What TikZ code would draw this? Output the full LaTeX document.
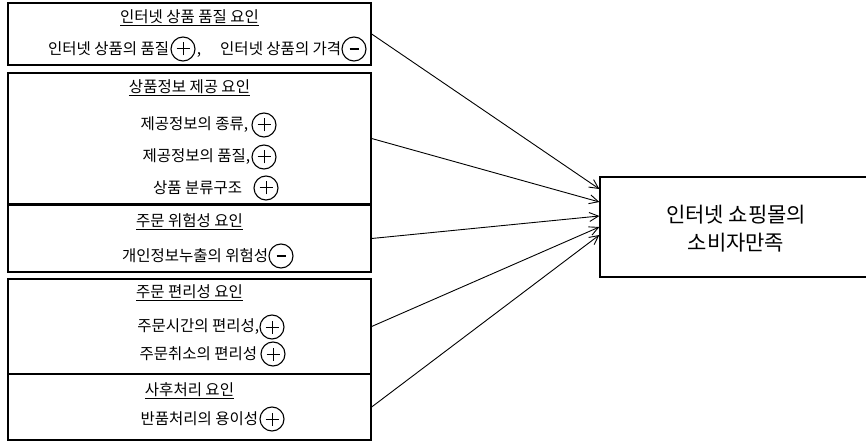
\documentclass[tikz,border=0pt]{standalone}
\usepackage{fontspec}
\setmainfont{Noto Sans CJK KR}
\usetikzlibrary{arrows.meta}
\begin{document}
\begin{tikzpicture}[x=1pt,y=-1pt,
  fbox/.style={draw, line width=1.3pt, minimum width=363pt, inner sep=0},
  ttl/.style={font=\fontsize{15.5}{17}\selectfont, inner sep=0},
  itm/.style={font=\fontsize{15.5}{17}\selectfont, inner sep=0, anchor=east},
  sgn/.style={circle, draw, line width=1.1pt, minimum size=24pt, inner sep=0},
  pls/.style={sgn, path picture={\draw[line width=1pt]
      ([xshift=-6.5pt]path picture bounding box.center) -- ([xshift=6.5pt]path picture bounding box.center)
      ([yshift=-6.5pt]path picture bounding box.center) -- ([yshift=6.5pt]path picture bounding box.center);}},
  mns/.style={sgn, path picture={\draw[line width=2.6pt]
      ([xshift=-4.5pt]path picture bounding box.center) -- ([xshift=4.5pt]path picture bounding box.center);}},
  arr/.style={line width=0.9pt, -{Straight Barb[length=9pt,width=9pt]}}]
\useasboundingbox (0,0) rectangle (866,443);
% boxes
\node[fbox, minimum height=62pt] (b1) at (189.5,34) {};
\node[fbox, minimum height=131pt] (b2) at (189.5,138.5) {};
\node[fbox, minimum height=67pt] (b3) at (189.5,238.5) {};
\node[fbox, minimum height=95pt] (b4) at (189.5,326.5) {};
\node[fbox, minimum height=66pt] (b5) at (189.5,407) {};
% box 1
\node[ttl] (t1) at (189.5,18) {\underline{인터넷 상품 품질 요인}};
\node[pls] (c1a) at (183,49) {};
\node[mns] (c1b) at (354,49) {};
\node[itm] (l1a) at ([xshift=-1pt]c1a.west) {인터넷 상품의 품질};
\node[itm, anchor=base west] (l1c) at ([xshift=1pt]l1a.base -| c1a.east) {,};
\node[itm] (l1b) at ([xshift=0pt]c1b.west) {인터넷 상품의 가격};
% box 2
\node[ttl] (t2) at (189.5,88) {\underline{상품정보 제공 요인}};
\node[pls] (c2a) at (264,125) {};
\node[pls] (c2b) at (264,157) {};
\node[pls] (c2c) at (266,188) {};
\node[itm] (l2a) at ([xshift=-3pt]c2a.west) {제공정보의 종류,};
\node[itm] (l2b) at ([xshift=-1pt]c2b.west) {제공정보의 품질,};
\node[itm] (l2c) at ([xshift=-11pt]c2c.west) {상품 분류구조};
% box 3
\node[ttl] (t3) at (189.5,222) {\underline{주문 위험성 요인}};
\node[mns] (c3a) at (281,256) {};
\node[itm] (l3a) at ([xshift=0pt]c3a.west) {개인정보누출의 위험성};
% box 4
\node[ttl] (t4) at (189.5,293) {\underline{주문 편리성 요인}};
\node[pls] (c4a) at (272,327) {};
\node[pls] (c4b) at (273,354) {};
\node[itm] (l4a) at ([xshift=0pt]c4a.west) {주문시간의 편리성,};
\node[itm] (l4b) at ([xshift=-3pt]c4b.west) {주문취소의 편리성};
% box 5
\node[ttl] (t5) at (189.5,391) {\underline{사후처리 요인}};
\node[pls] (c5a) at (272,419) {};
\node[itm] (l5a) at ([xshift=-1pt]c5a.west) {반품처리의 용이성};
% target
\node[draw, line width=1.3pt, minimum width=272pt, minimum height=100pt, inner sep=0] (t) at (736,227) {};
\node[font=\fontsize{21}{28}\selectfont, align=center, inner sep=0] (tt) at (736,229) {인터넷 쇼핑몰의\\소비자만족};
% arrows
\draw[arr] (b1.east) -- ([yshift=38pt]t.west);
\draw[arr] (b2.east) -- ([yshift=25pt]t.west);
\draw[arr] (b3.east) -- ([yshift=11pt]t.west);
\draw[arr] (b4.east) -- ([yshift=0pt]t.west);
\draw[arr] (b5.east) -- ([yshift=-8pt]t.west);
\end{tikzpicture}
\end{document}
